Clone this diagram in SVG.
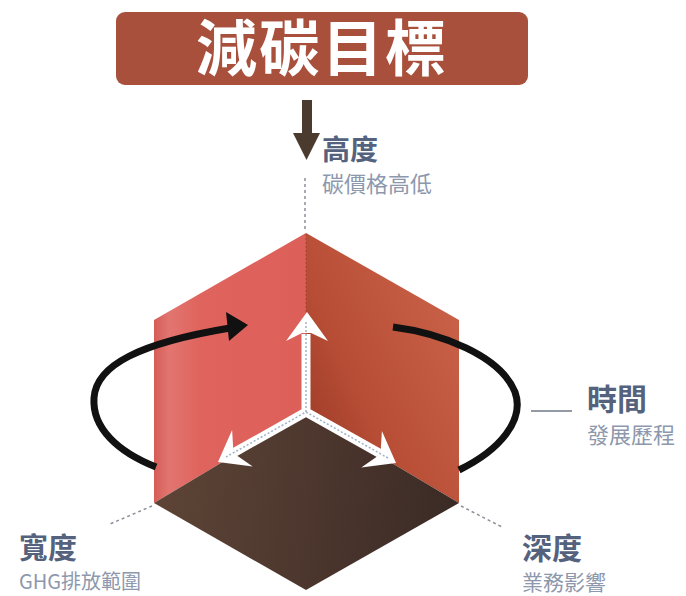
<svg xmlns="http://www.w3.org/2000/svg" width="686" height="596" viewBox="0 0 686 596">
  <style>
    .lbl { font-family: "Noto Sans CJK TC", "Noto Sans", sans-serif; font-weight: 700; fill: #55627d; }
    .sub { font-family: "Noto Sans CJK TC", "Noto Sans", sans-serif; font-weight: 400; fill: #8d98ad; }
    .guide { stroke: #8a8f99; stroke-width: 1.5; stroke-dasharray: 3 3; fill: none; }
    .orbit { fill: none; stroke: #111; stroke-width: 7; stroke-linecap: butt; }
  </style>
  <defs>
    <linearGradient id="gLeft" gradientUnits="userSpaceOnUse" x1="154" y1="0" x2="306" y2="0">
      <stop offset="0" stop-color="#d55d57"/>
      <stop offset="0.1" stop-color="#e27570"/>
      <stop offset="0.3" stop-color="#df645d"/>
      <stop offset="1" stop-color="#dd5f59"/>
    </linearGradient>
    <linearGradient id="gRight" gradientUnits="userSpaceOnUse" x1="306" y1="400" x2="459" y2="330">
      <stop offset="0" stop-color="#a4402b"/>
      <stop offset="0.3" stop-color="#b74d35"/>
      <stop offset="1" stop-color="#c85f47"/>
    </linearGradient>
    <linearGradient id="gBottom" gradientUnits="userSpaceOnUse" x1="154" y1="480" x2="459" y2="520">
      <stop offset="0" stop-color="#5d4436"/>
      <stop offset="0.5" stop-color="#4d372e"/>
      <stop offset="1" stop-color="#3a2a25"/>
    </linearGradient>
    <linearGradient id="gFade" gradientUnits="userSpaceOnUse" x1="393" y1="0" x2="452" y2="0">
      <stop offset="0" stop-color="#111" stop-opacity="0"/>
      <stop offset="1" stop-color="#111" stop-opacity="1"/>
    </linearGradient>
  </defs>
  <rect width="686" height="596" fill="#ffffff"/>

  <g id="title">
    <rect x="116" y="12" width="412" height="73" rx="9" fill="#a8503c"/>
    <text x="196" y="71" font-family="Noto Sans CJK TC, Noto Sans, sans-serif" font-weight="700" font-size="61" letter-spacing="2" fill="#ffffff">減碳目標</text>
  </g>

  <g id="cube">
    <polygon points="306,233 154,320 154,503 306,412" fill="url(#gLeft)"/>
    <polygon points="306,233 459,320 459,503 306,412" fill="url(#gRight)"/>
    <polygon points="306,412 154,503 306,590 459,503" fill="url(#gBottom)"/>
    <line x1="306" y1="234" x2="306" y2="318" stroke="#a5443a" stroke-width="1" stroke-dasharray="2 2"/>
  </g>

  <g id="connectors">
    <rect x="302" y="100" width="10" height="35" fill="#4b3a2e"/>
    <polygon points="293,133 320,133 306.5,160" fill="#4b3a2e"/>
    <line class="guide" x1="305" y1="178" x2="305" y2="229"/>
    <line class="guide" x1="152" y1="506" x2="110" y2="524"/>
    <line class="guide" x1="461" y1="506" x2="502" y2="527"/>
    <line x1="531" y1="411" x2="572" y2="411" stroke="#6f7888" stroke-width="1.5"/>
    <path class="orbit" d="M156,467 C118,452 92,428 94,398 C96,365 140,343 230,328"/>
    <polygon points="248,325 226,312 229,341" fill="#111"/>
    <path class="orbit" stroke="url(#gFade)" d="M393,327 C440,333 500,355 515,392 C525,420 500,450 459,470"/>
    <path d="M306,334 L306,412 L235,452 M306,412 L379,453" fill="none" stroke="#ffffff" stroke-width="9" stroke-linejoin="round"/>
    <polygon points="307,312 328,341 311,333 302,333 286,341" fill="#ffffff"/>
    <polygon points="218,462 232.1,430 233.2,448.3 237.6,456.1 252.7,466.6" fill="#ffffff"/>
    <polygon points="396,463 381.9,430.9 380.8,449.2 376.4,457 361.3,467.5" fill="#ffffff"/>
    <path d="M306,322 L306,412 L226,457 M306,412 L388,458" fill="none" stroke="#9fb2c4" stroke-width="1.5" stroke-dasharray="2 2"/>
  </g>

  <g id="height">
    <text class="lbl" x="322" y="160" font-size="28">高度</text>
    <text class="sub" x="322" y="192" font-size="22">碳價格高低</text>
  </g>
  <g id="time">
    <text class="lbl" x="587" y="410" font-size="30">時間</text>
    <text class="sub" x="587" y="443" font-size="22">發展歷程</text>
  </g>
  <g id="depth">
    <text class="lbl" x="522" y="559" font-size="30">深度</text>
    <text class="sub" x="522" y="590" font-size="21">業務影響</text>
  </g>
  <g id="width">
    <text class="lbl" x="19" y="559" font-size="29">寬度</text>
    <text class="sub" x="19" y="589" font-size="20">GHG排放範圍</text>
  </g>
</svg>
